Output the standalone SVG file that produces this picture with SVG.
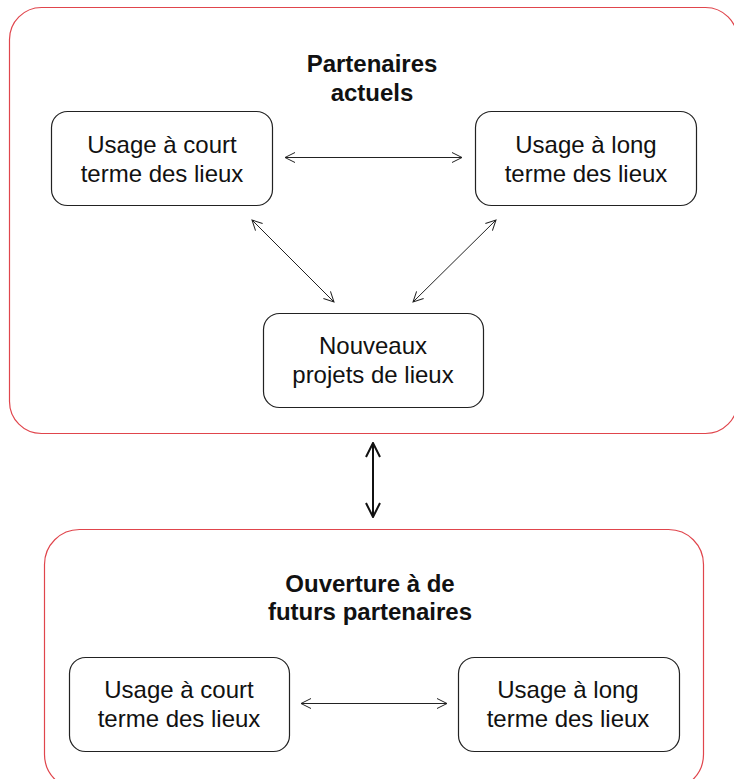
<svg xmlns="http://www.w3.org/2000/svg" width="734" height="779" viewBox="0 0 734 779">
<style>
.container{fill:none;stroke:#e0454c;stroke-width:1.2}
.node rect{fill:#fff;stroke:#222;stroke-width:1.2}
.t{font-family:"Liberation Sans",Arial,sans-serif;font-size:24px;fill:#111;text-anchor:middle}
.title{font-family:"Liberation Sans",Arial,sans-serif;font-size:24px;font-weight:bold;fill:#111;text-anchor:middle}
.conn line{stroke:#222;stroke-width:1;fill:none}
.conn line.thick{stroke:#111;stroke-width:2}
</style>
<defs>
<marker id="ah" viewBox="0 0 12 12" refX="11" refY="6" markerWidth="12" markerHeight="12" markerUnits="userSpaceOnUse" orient="auto-start-reverse">
<path d="M1,1 L11,6 L1,11" fill="none" stroke="#222" stroke-width="1"/>
</marker>
<marker id="ahb" viewBox="0 0 16 16" refX="15" refY="8" markerWidth="16" markerHeight="16" markerUnits="userSpaceOnUse" orient="auto-start-reverse">
<path d="M1,1 L15,8 L1,15" fill="none" stroke="#111" stroke-width="2"/>
</marker>
</defs>
<rect width="734" height="779" fill="#fff"/>
<g id="group-actuels">
<rect class="container" x="9.5" y="7.5" width="728" height="426" rx="32"/>
<text class="title" x="372" y="72">Partenaires</text>
<text class="title" x="372" y="101">actuels</text>
</g>
<g id="group-futurs">
<rect class="container" x="44.5" y="529.5" width="659" height="260" rx="35"/>
<text class="title" x="370" y="592">Ouverture à de</text>
<text class="title" x="370" y="620">futurs partenaires</text>
</g>
<g id="n-court-1" class="node">
<rect x="51.5" y="111.5" width="221" height="94" rx="16"/>
<text class="t" x="162" y="153">Usage à court</text>
<text class="t" x="162" y="182">terme des lieux</text>
</g>
<g id="n-long-1" class="node">
<rect x="475.5" y="111.5" width="221" height="94" rx="16"/>
<text class="t" x="586" y="153">Usage à long</text>
<text class="t" x="586" y="182">terme des lieux</text>
</g>
<g id="n-nouveaux" class="node">
<rect x="263.5" y="313.5" width="220" height="94" rx="16"/>
<text class="t" x="373" y="354">Nouveaux</text>
<text class="t" x="373" y="383">projets de lieux</text>
</g>
<g id="n-court-2" class="node">
<rect x="69.5" y="657.5" width="220" height="94" rx="16"/>
<text class="t" x="179" y="698">Usage à court</text>
<text class="t" x="179" y="727">terme des lieux</text>
</g>
<g id="n-long-2" class="node">
<rect x="458.5" y="657.5" width="221" height="94" rx="16"/>
<text class="t" x="568" y="698">Usage à long</text>
<text class="t" x="568" y="727">terme des lieux</text>
</g>
<g id="connectors" class="conn">
<line x1="285" y1="157.5" x2="462" y2="157.5" marker-start="url(#ah)" marker-end="url(#ah)"/>
<line x1="252" y1="220" x2="334" y2="302" marker-start="url(#ah)" marker-end="url(#ah)"/>
<line x1="496" y1="220" x2="413" y2="302" marker-start="url(#ah)" marker-end="url(#ah)"/>
<line class="thick" x1="373" y1="443" x2="373" y2="517" marker-start="url(#ahb)" marker-end="url(#ahb)"/>
<line x1="301" y1="703.5" x2="447" y2="703.5" marker-start="url(#ah)" marker-end="url(#ah)"/>
</g>
</svg>
